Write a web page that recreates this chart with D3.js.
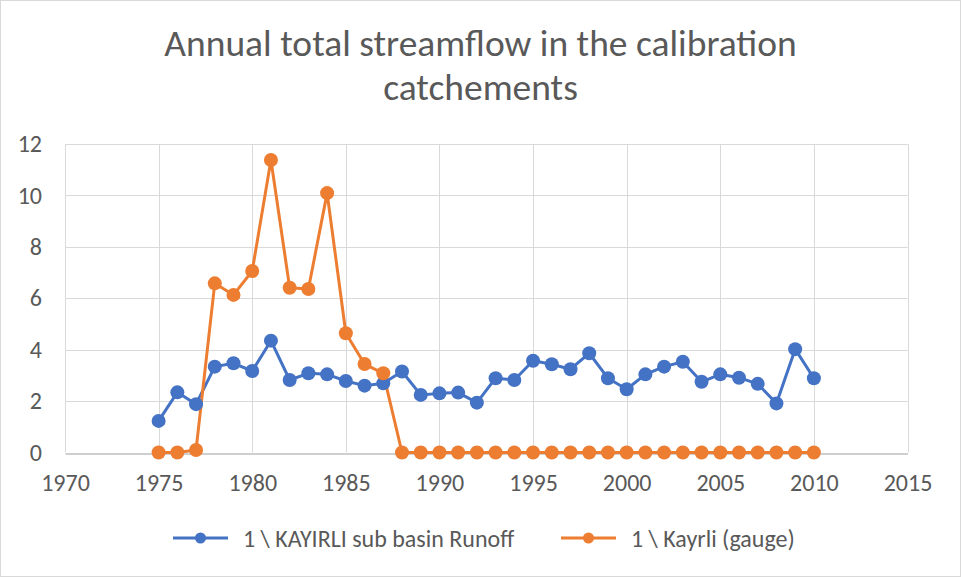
<!DOCTYPE html>
<html>
<head>
<meta charset="utf-8">
<script src="https://cdn.jsdelivr.net/npm/d3@7"></script>
<style>
  html, body { margin: 0; padding: 0; background: #fff; }
  svg { display: block; }
  text { font-family: Carlito, Calibri, Lato, "Open Sans", sans-serif; fill: #595959; }
</style>
</head>
<body>
<svg id="chart" width="961" height="577"></svg>
<script>
const years = d3.range(1975, 2011);
const runoff = [1.23, 2.34, 1.88, 3.34, 3.47, 3.17, 4.35, 2.82, 3.08, 3.04,
                2.78, 2.60, 2.69, 3.15, 2.24, 2.30, 2.33, 1.94, 2.89, 2.82,
                3.57, 3.43, 3.24, 3.86, 2.89, 2.46, 3.04, 3.34, 3.53, 2.75,
                3.04, 2.91, 2.67, 1.91, 4.02, 2.89];
const gauge = [0, 0, 0.10, 6.58, 6.13, 7.06, 11.38, 6.41, 6.36, 10.09,
               4.64, 3.44, 3.08, 0, 0, 0, 0, 0, 0, 0,
               0, 0, 0, 0, 0, 0, 0, 0, 0, 0,
               0, 0, 0, 0, 0, 0];
const xTicks = [1970, 1975, 1980, 1985, 1990, 1995, 2000, 2005, 2010, 2015];
const yTicks = [0, 2, 4, 6, 8, 10, 12];
const seriesNames = ["1 \\ KAYIRLI sub basin Runoff", "1 \\ Kayrli (gauge)"];
const colors = ["#4472C4", "#ED7D31"];
const titleLines = ["Annual total streamflow in the calibration", "catchements"];

const svg = d3.select("#chart");
const W = 961, H = 577;
const FONT = "Carlito, Calibri, Lato, sans-serif";

svg.append("rect").attr("x", 0.5).attr("y", 0.5).attr("width", W - 1).attr("height", H - 1)
  .attr("fill", "#fff").attr("stroke", "#D9D9D9");

const x = d3.scaleLinear().domain([1970, 2015]).range([65, 907.5]);
const y = d3.scaleLinear().domain([0, 12]).range([452.5, 144]);

// grid
const g = svg.append("g");
g.selectAll(".hg").data(yTicks.filter(v => v > 0)).join("line")
  .attr("x1", x(1970)).attr("x2", x(2015))
  .attr("y1", d => Math.round(y(d)) + 0.5).attr("y2", d => Math.round(y(d)) + 0.5)
  .attr("stroke", "#D9D9D9").attr("stroke-width", 1);
g.selectAll(".vg").data(xTicks).join("line")
  .attr("y1", y(12)).attr("y2", y(0))
  .attr("x1", d => Math.round(x(d)) + 0.5).attr("x2", d => Math.round(x(d)) + 0.5)
  .attr("stroke", "#D9D9D9").attr("stroke-width", 1);

// axes
const xAxis = d3.axisBottom(x).tickValues(xTicks).tickFormat(d3.format("d")).tickSize(0).tickPadding(20);
const xg = svg.append("g").attr("transform", `translate(0,${Math.round(y(0)) + 0.5})`).call(xAxis);
xg.select(".domain").attr("stroke", "#BFBFBF").attr("stroke-width", 1.3);
xg.selectAll("text").attr("font-size", 24).attr("dy", "0.71em").style("fill", "#595959")
  .style("font-family", FONT);

const yAxis = d3.axisLeft(y).tickValues(yTicks).tickFormat(d3.format("d")).tickSize(0).tickPadding(23);
const yg = svg.append("g").attr("transform", `translate(${x(1970)},0)`).call(yAxis);
yg.select(".domain").remove();
yg.selectAll("text").attr("font-size", 24).style("fill", "#595959")
  .style("font-family", FONT);

// series
const series = [runoff, gauge];
const line = d3.line().x((d, i) => x(years[i])).y(d => y(d));
series.forEach((vals, s) => {
  svg.append("path").datum(vals).attr("d", line)
    .attr("fill", "none").attr("stroke", colors[s]).attr("stroke-width", 3)
    .attr("stroke-linejoin", "round").attr("stroke-linecap", "round");
});
series.forEach((vals, s) => {
  svg.append("g").selectAll("circle").data(vals).join("circle")
    .attr("cx", (d, i) => x(years[i])).attr("cy", d => y(d)).attr("r", 7)
    .attr("fill", colors[s]);
});

// title
svg.append("text").attr("text-anchor", "middle").attr("font-size", 37.5)
  .style("font-weight", 300)
  .selectAll("tspan").data(titleLines).join("tspan")
  .attr("x", 480.5).attr("y", (d, i) => 56 + i * 44).text(d => d);

// legend
const legendX = [173, 561];
const lg = svg.append("g");
seriesNames.forEach((name, s) => {
  const lx = legendX[s], ly = 538;
  lg.append("line").attr("x1", lx).attr("x2", lx + 55).attr("y1", ly).attr("y2", ly)
    .attr("stroke", colors[s]).attr("stroke-width", 3);
  lg.append("circle").attr("cx", lx + 27.5).attr("cy", ly).attr("r", 5.5).attr("fill", colors[s]);
  lg.append("text").attr("x", lx + 70).attr("y", 547)
    .attr("font-size", 24).text(name);
});
</script>
</body>
</html>
